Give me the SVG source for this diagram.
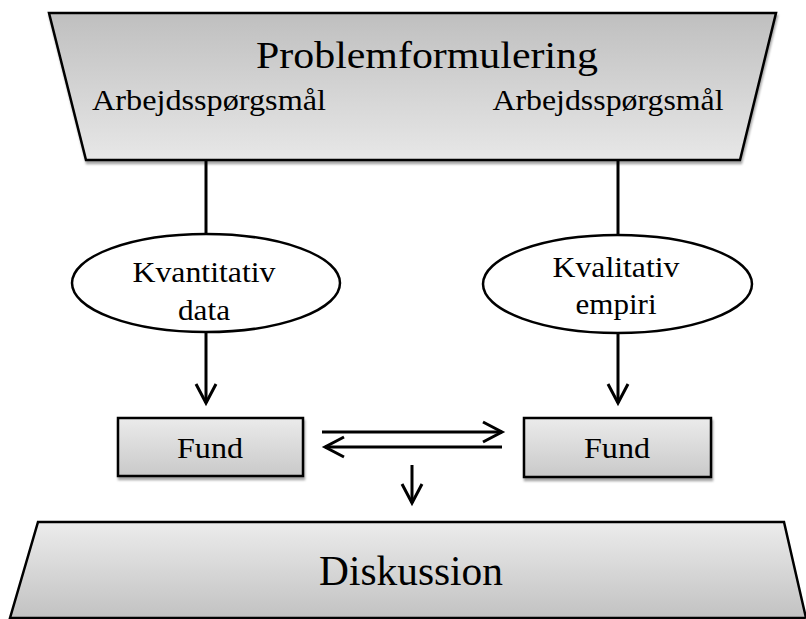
<svg xmlns="http://www.w3.org/2000/svg" width="806" height="619" viewBox="0 0 806 619">
<defs>
<linearGradient id="gTop" x1="0" y1="0" x2="0" y2="1">
<stop offset="0" stop-color="#bfbfbf"/><stop offset="1" stop-color="#e7e7e7"/>
</linearGradient>
<linearGradient id="gBot" x1="0" y1="0" x2="0" y2="1">
<stop offset="0" stop-color="#ececec"/><stop offset="1" stop-color="#c2c2c2"/>
</linearGradient>
<linearGradient id="gBox" x1="0" y1="0" x2="0" y2="1">
<stop offset="0" stop-color="#ebebeb"/><stop offset="1" stop-color="#c9c9c9"/>
</linearGradient>
<filter id="sh" x="-5%" y="-5%" width="110%" height="120%">
<feDropShadow dx="1" dy="3" stdDeviation="1.2" flood-color="#000" flood-opacity="0.35"/>
</filter>
<marker id="arr" markerUnits="userSpaceOnUse" markerWidth="26" markerHeight="26" viewBox="0 0 26 26" refX="22" refY="12" orient="auto">
<path d="M3,2 L22,12 L3,22" fill="none" stroke="#000" stroke-width="3"/>
</marker>
</defs>
<style>
.shape{stroke:#000;stroke-width:2.5}
.t{font-family:'Liberation Serif','Times New Roman','DejaVu Serif',serif;fill:#000;text-anchor:middle}
.c{stroke:#000;stroke-width:3;fill:none}
</style>
<rect width="806" height="619" fill="#fff"/>

<g id="connectors">
<line class="c" x1="206" y1="161" x2="206" y2="234"/>
<line class="c" x1="618" y1="161" x2="618" y2="235"/>
<line class="c" x1="206" y1="332" x2="206" y2="403" marker-end="url(#arr)"/>
<line class="c" x1="618" y1="333" x2="618" y2="403" marker-end="url(#arr)"/>
<line class="c" x1="322" y1="432" x2="502" y2="432" marker-end="url(#arr)"/>
<line class="c" x1="502" y1="447" x2="325" y2="447" marker-end="url(#arr)"/>
<line class="c" x1="412" y1="465" x2="412" y2="503" marker-end="url(#arr)"/>
</g>

<g id="problemformulering" font-family="Liberation Serif, serif">
<polygon class="shape" points="49,13 776,13 740,160 86,160" fill="url(#gTop)" filter="url(#sh)"/>
<text class="t" font-family="Liberation Serif, serif" x="427" y="68" font-size="38" textLength="342" lengthAdjust="spacingAndGlyphs">Problemformulering</text>
<text class="t" font-family="Liberation Serif, serif" x="209" y="110" font-size="30" textLength="234" lengthAdjust="spacingAndGlyphs">Arbejdsspørgsmål</text>
<text class="t" font-family="Liberation Serif, serif" x="608" y="110" font-size="30" textLength="231" lengthAdjust="spacingAndGlyphs">Arbejdsspørgsmål</text>
</g>

<g id="kvantitativ">
<ellipse class="shape" cx="206" cy="283" rx="134" ry="49" fill="#fff" stroke-width="2"/>
<text class="t" font-family="Liberation Serif, serif" x="204" y="282" font-size="30" textLength="143" lengthAdjust="spacingAndGlyphs">Kvantitativ</text>
<text class="t" font-family="Liberation Serif, serif" x="204" y="320" font-size="30" textLength="52" lengthAdjust="spacingAndGlyphs">data</text>
</g>

<g id="kvalitativ">
<ellipse class="shape" cx="617.5" cy="284" rx="134.5" ry="49" fill="#fff" stroke-width="2"/>
<text class="t" font-family="Liberation Serif, serif" x="616" y="277" font-size="30" textLength="127" lengthAdjust="spacingAndGlyphs">Kvalitativ</text>
<text class="t" font-family="Liberation Serif, serif" x="616" y="314" font-size="30" textLength="81" lengthAdjust="spacingAndGlyphs">empiri</text>
</g>

<g id="fund-left">
<rect class="shape" x="118" y="418" width="185" height="58" fill="url(#gBox)" filter="url(#sh)"/>
<text class="t" font-family="Liberation Serif, serif" x="210" y="458" font-size="30" textLength="66" lengthAdjust="spacingAndGlyphs">Fund</text>
</g>

<g id="fund-right">
<rect class="shape" x="524" y="418" width="187" height="59" fill="url(#gBox)" filter="url(#sh)"/>
<text class="t" font-family="Liberation Serif, serif" x="617" y="458" font-size="30" textLength="66" lengthAdjust="spacingAndGlyphs">Fund</text>
</g>

<g id="diskussion">
<polygon class="shape" points="38,522 784,522 806,618 10,618" fill="url(#gBot)"/>
<text class="t" font-family="Liberation Serif, serif" x="411" y="585" font-size="42" textLength="184" lengthAdjust="spacingAndGlyphs">Diskussion</text>
</g>
</svg>
